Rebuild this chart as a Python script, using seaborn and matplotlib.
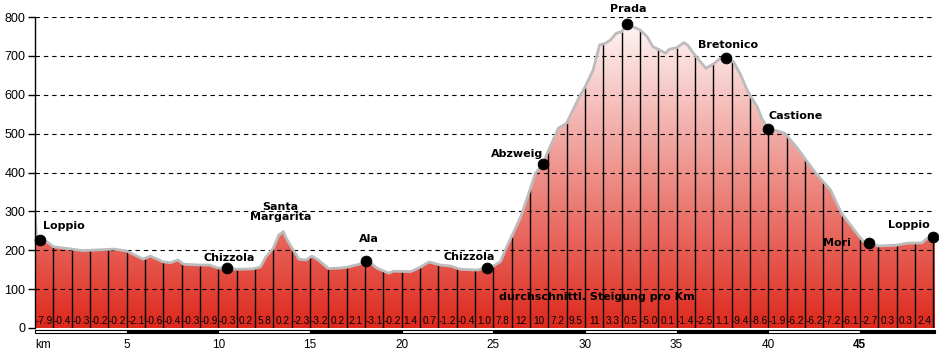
import numpy as np
import matplotlib
matplotlib.use("Agg")
import matplotlib.pyplot as plt
import seaborn as sns
from matplotlib.colors import LinearSegmentedColormap
from matplotlib.patches import Rectangle

# ---------------- data ----------------
km = [0.0, 0.08, 0.27, 0.64, 1.0, 2.0, 2.6, 3.5, 4.3, 5.0, 5.9, 6.3, 7.0, 7.4, 7.8,
      8.1, 9.0, 9.5, 10.0, 10.5, 11.0, 11.9, 12.3, 12.6, 13.0, 13.3, 13.55, 13.7,
      14.0, 14.4, 14.8, 15.1, 15.45, 16.0, 16.6, 17.0, 17.7, 18.05, 18.3, 18.65,
      19.0, 19.3, 19.55, 20.5, 21.0, 21.5, 22.1, 22.7, 23.2, 24.1, 24.65, 25.0,
      25.4, 25.7, 26.0, 26.5, 27.0, 27.3, 27.7, 28.0, 28.55, 29.0, 29.7, 30.0,
      30.45, 30.8, 31.1, 31.4, 31.7, 32.0, 32.3, 32.6, 33.0, 33.4, 33.7, 34.0,
      34.4, 34.6, 35.0, 35.4, 35.6, 36.0, 36.6, 37.0, 37.4, 37.7, 38.1, 38.5,
      38.8, 39.0, 39.4, 39.65, 40.0, 40.5, 40.9, 41.3, 41.6, 42.0, 42.6, 43.4,
      44.0, 44.55, 44.9, 45.2, 45.5, 46.0, 47.0, 47.55, 48.4, 48.6, 49.0, 49.1]
elev = [295, 233, 226, 222, 209, 203, 199, 201, 203, 198, 177, 185, 170, 168, 175,
        164, 162, 162, 154, 155, 151, 152, 157, 183, 205, 239, 248, 231,
        207, 177, 175, 185, 175, 153, 154, 156, 164, 173, 168, 154,
        147, 141, 146, 145, 156, 170, 162, 159, 151, 149, 155, 159,
        171, 205, 235, 286, 355, 398, 421, 455, 514, 527, 595, 619,
        664, 728, 732, 741, 758, 762, 781, 775, 767, 749, 724, 717,
        707, 717, 721, 734, 728, 702, 668, 679, 694, 695, 685, 651,
        617, 599, 569, 539, 511, 507, 501, 479, 462, 436, 398, 355,
        295, 261, 239, 222, 218, 211, 213, 218, 219, 228, 235, 236]

gradients = ["-7.9", "-0.4", "-0.3", "-0.2", "-0.2", "-2.1", "-0.6", "-0.4", "-0.3",
             "-0.9", "-0.3", "0.2", "5.8", "0.2", "-2.3", "-3.2", "0.2", "2.1",
             "-3.1", "-0.2", "1.4", "0.7", "-1.2", "-0.4", "1.0", "7.8", "12", "10",
             "7.2", "9.5", "11", "3.3", "0.5", "-5.0", "0.1", "-1.4", "-2.5", "1.1",
             "-9.4", "-8.6", "-1.9", "-6.2", "-6.2", "-7.2", "-6.1", "-2.7", "0.3",
             "0.3", "2.4"]

dot_names = ["Loppio", "Chizzola", "Ala", "Chizzola", "Abzweig", "Prada",
             "Bretonico", "Castione", "Mori", "Loppio"]
dot_km = [0.27, 10.5, 18.05, 24.65, 27.7, 32.3, 37.7, 40.0, 45.5, 49.0]
dot_elev = [226, 155, 173, 155, 421, 781, 695, 511, 218, 235]

label_names = ["Loppio", "Chizzola", "Santa\nMargarita", "Ala", "Chizzola",
               "Abzweig", "Prada", "Bretonico", "Castione", "Mori", "Loppio"]
label_km = [1.6, 10.6, 13.4, 18.2, 23.7, 26.3, 32.35, 37.8, 41.5, 43.75, 47.7]
label_elev = [263, 180, 298, 229, 183, 448, 820, 728, 545, 219, 265]

xtick_vals = [0, 5, 10, 15, 20, 25, 30, 35, 40, 45]
xtick_labels = ["km", "5", "10", "15", "20", "25", "30", "35", "40", "45"]
ytick_vals = [0, 100, 200, 300, 400, 500, 600, 700, 800]
caption = "durchschnittl. Steigung pro Km"

# ---------------- figure ----------------
sns.set_theme(style="white")
plt.rcParams["font.family"] = ["DejaVu Sans"]

W, H = 939, 351
fig = plt.figure(figsize=(W / 100, H / 100), dpi=100)
fig.patch.set_facecolor("white")
ax = fig.add_axes([35 / W, 23 / H, 900 / W, 311 / H])
ax.set_facecolor("white")
XMAX = 49.1

# gradient fill clipped to the profile
cmap = LinearSegmentedColormap.from_list("g", [(0.87, 0.16, 0.11), (1, 1, 1)])
grad = np.linspace(0, 1, 256).reshape(-1, 1)
im = ax.imshow(grad, extent=[0, XMAX, 0, 820], origin="lower", cmap=cmap,
               aspect="auto", zorder=1)
poly = ax.fill_between(km, elev, 0, color="none", lw=0)
im.set_clip_path(poly.get_paths()[0], transform=ax.transData)

# km lines
for k in range(1, 50):
    top = np.interp(k, km, elev)
    ax.vlines(k, 0, top, color="black", lw=1.0, zorder=2)

# grid
for y in ytick_vals[1:]:
    ax.axhline(y, color="black", lw=0.8, ls=(0, (4, 3.5)), zorder=3)

# outline
sns.lineplot(x=km, y=elev, color="#bcbcbc", lw=2.0, ax=ax, zorder=4)

# dots
sns.scatterplot(x=dot_km, y=dot_elev, color="black", s=60, edgecolor="black",
                ax=ax, zorder=6, clip_on=False)

# place labels
for name, x, y in zip(label_names, label_km, label_elev):
    ax.text(x, y, name, ha="center", va="center", fontsize=8, fontweight="bold",
            color="black", zorder=7, clip_on=False, linespacing=1.05)

# gradient labels
for i, g in enumerate(gradients):
    ax.text(i + 0.5, 18, g, ha="center", va="center", fontsize=7.2,
            family="Liberation Sans", color="black", zorder=7)

ax.text(30.66, 80, caption, ha="center", va="center", fontsize=8,
        fontweight="bold", color="black", zorder=7)

# bottom bar
for i, s in enumerate(range(0, 50, 5)):
    e = min(s + 5, XMAX)
    ax.add_patch(Rectangle((s, -14), e - s, 10, facecolor="white" if i % 2 == 0 else "black",
                           edgecolor="black", lw=0.8, clip_on=False, zorder=5))

ax.set_xlim(0, XMAX)
ax.set_ylim(0, 800)
ax.set_xlabel("")
ax.set_ylabel("")
ax.set_yticks(ytick_vals)
ax.set_yticklabels([str(v) for v in ytick_vals], family="Liberation Sans", fontsize=9)
ax.set_xticks(xtick_vals)
ax.set_xticklabels(xtick_labels, family="Liberation Sans", fontsize=8.5)
ax.tick_params(axis="y", left=True, length=5, width=1, color="black", pad=2, labelcolor="black")
ax.tick_params(axis="x", bottom=False, length=0, pad=8, labelcolor="black")
xl = ax.get_xticklabels()
xl[0].set_ha("left")
xl[-1].set_fontweight("bold")

for side in ["top", "right", "bottom"]:
    ax.spines[side].set_visible(False)
ax.spines["left"].set_color("black")
ax.spines["left"].set_linewidth(1.0)
ax.spines["left"].set_zorder(8)

fig.savefig("out.png", dpi=100, facecolor="white")
